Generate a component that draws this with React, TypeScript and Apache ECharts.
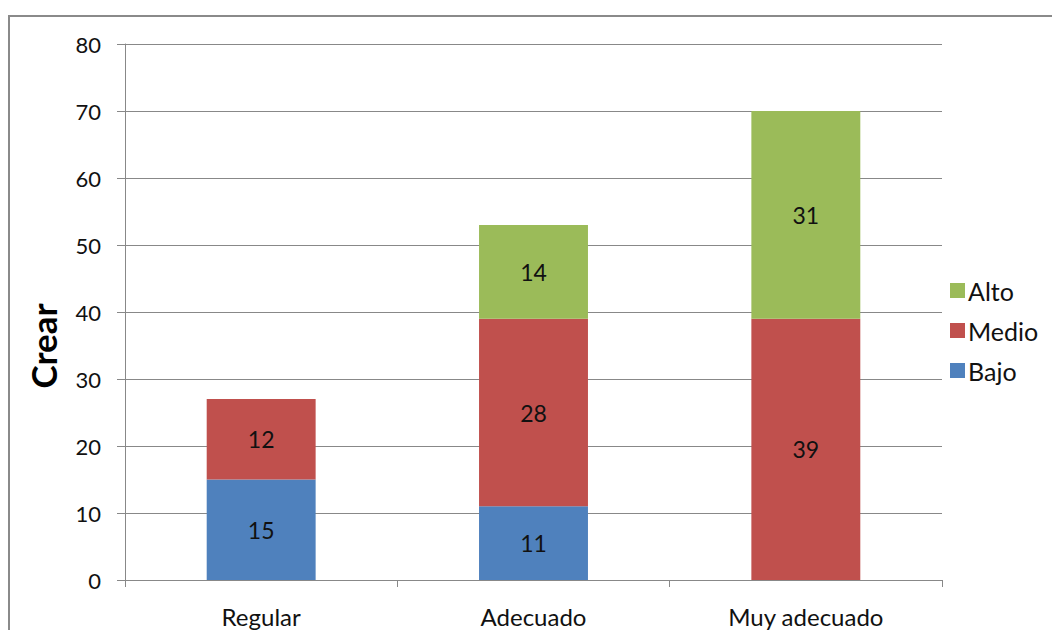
import React, { useEffect, useRef } from "react";
import * as echarts from "echarts";

const categories = ["Regular", "Adecuado", "Muy adecuado"];
const bajo = [15, 11, null];
const medio = [12, 28, 39];
const alto = [null, 14, 31];
const yTicks = { min: 0, max: 80, interval: 10 };

const FONT = "Lato, 'Open Sans', sans-serif";

export default function App() {
  const ref = useRef<HTMLDivElement>(null);
  useEffect(() => {
    document.body.style.margin = "0";
    if (!ref.current) return;
    const chart = echarts.init(ref.current, null, { renderer: "svg" });
    const label = {
      show: true,
      position: "inside",
      color: "#111",
      fontSize: 23,
      fontFamily: FONT,
    };
    chart.setOption({
      animation: false,
      textStyle: { fontFamily: FONT },
      graphic: [
        {
          type: "rect",
          shape: { x: 9, y: 16, width: 1100, height: 700 },
          style: { fill: "none", stroke: "#8a8a8a", lineWidth: 2 },
          silent: true,
        },
      ],
      grid: { left: 125, right: 110, top: 44, bottom: 50 },
      legend: {
        orient: "vertical",
        left: 945,
        top: 273,
        itemWidth: 15,
        itemHeight: 15,
        itemGap: 15,
        icon: "rect",
        data: ["Alto", "Medio", "Bajo"],
        textStyle: { fontSize: 25, color: "#111", fontFamily: FONT, padding: [0, 0, 0, -2] },
      },
      xAxis: {
        type: "category",
        data: categories,
        axisLine: { lineStyle: { color: "#888", width: 1 } },
        axisTick: { show: true, length: 7, lineStyle: { color: "#888" } },
        axisLabel: { fontSize: 24, color: "#111", margin: 24, fontFamily: FONT },
      },
      yAxis: {
        type: "value",
        min: yTicks.min,
        max: yTicks.max,
        interval: yTicks.interval,
        name: "Crear",
        nameLocation: "middle",
        nameRotate: 90,
        nameGap: 65,
        nameTextStyle: {
          fontSize: 35,
          fontWeight: "bold",
          color: "#000",
          fontFamily: FONT,
          padding: [0, 68, 0, 0],
        },
        axisLine: { show: true, lineStyle: { color: "#888", width: 1 } },
        axisTick: { show: true, length: 8, lineStyle: { color: "#888" } },
        axisLabel: { fontSize: 22, color: "#111", margin: 24, fontFamily: FONT },
        splitLine: { lineStyle: { color: "#888", width: 1 } },
      },
      series: [
        {
          name: "Bajo",
          type: "bar",
          stack: "s",
          barWidth: "40%",
          data: bajo,
          itemStyle: { color: "#4F81BD" },
          label,
        },
        {
          name: "Medio",
          type: "bar",
          stack: "s",
          barWidth: "40%",
          data: medio,
          itemStyle: { color: "#C0504D" },
          label,
        },
        {
          name: "Alto",
          type: "bar",
          stack: "s",
          barWidth: "40%",
          data: alto,
          itemStyle: { color: "#9BBB59" },
          label,
        },
      ],
    });
    return () => chart.dispose();
  }, []);
  return <div ref={ref} style={{ width: 1052, height: 630 }} />;
}
